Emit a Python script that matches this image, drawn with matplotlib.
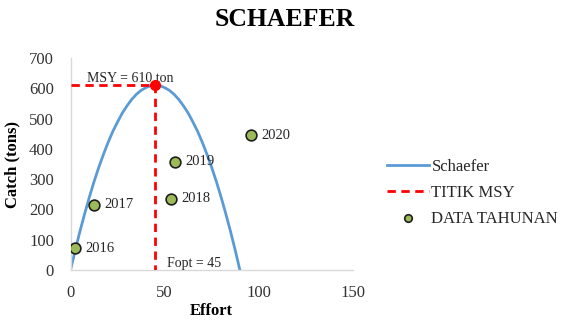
import matplotlib
matplotlib.use("Agg")
import matplotlib.pyplot as plt

# Schaefer curve, values
effort_curve = [0, 2.5, 5, 7.5, 10, 12.5, 15, 17.5, 20, 22.5, 25, 27.5, 30, 32.5, 35, 37.5,
                40, 42.5, 45, 47.5, 50, 52.5, 55, 57.5, 60, 62.5, 65, 67.5, 70, 72.5, 75,
                77.5, 80, 82.5, 85, 87.5, 90]
catch_curve = [0, 66, 128, 186, 241, 292, 339, 382, 422, 458, 489, 518, 542, 563, 580, 593,
               602, 608, 610, 608, 602, 593, 580, 563, 542, 518, 489, 458, 422, 382, 339,
               292, 241, 186, 128, 66, 0]

# MSY point
msy_effort = 45
msy_catch = 610

# yearly data
years = ["2016", "2017", "2018", "2019", "2020"]
effort_data = [2.6, 12.6, 53.5, 55.6, 96]
catch_data = [72, 216, 236, 357, 445]

plt.rcParams["font.family"] = ["Liberation Serif", "DejaVu Serif"]

fig = plt.figure(figsize=(5.69, 3.2), dpi=100)
ax = fig.add_axes([0.124, 0.156, 0.496, 0.663])

ax.plot(effort_curve, catch_curve, color="#5b9bd5", lw=2, label="Schaefer", zorder=2)
ax.plot([0, msy_effort, msy_effort], [msy_catch, msy_catch, 0], color="#ff0000",
        lw=2, ls=(0, (3, 2)), label="TITIK MSY", zorder=3)
ax.plot(msy_effort, msy_catch, "o", color="#ff0000", ms=7, zorder=4)
ax.scatter(effort_data, catch_data, s=60, color="#9bbb59", edgecolor="#1f1f1f",
           linewidth=1.2, label="DATA TAHUNAN", zorder=5)

for x, y, t in zip(effort_data, catch_data, years):
    ax.text(x + 5.5, y, t, fontsize=10.5, va="center", ha="left", color="#262626")

ax.text(9, 632, "MSY = 610 ton", fontsize=10, va="center", ha="left", color="#262626")
ax.text(51, 22, "Fopt = 45", fontsize=10, va="center", ha="left", color="#262626")

ax.set_xlim(0, 150)
ax.set_ylim(0, 700)
ax.set_xticks([0, 50, 100, 150])
ax.set_yticks(range(0, 701, 100))
ax.tick_params(length=0, labelsize=12, colors="#333333")
ax.tick_params(axis="x", pad=11)
ax.tick_params(axis="y", pad=12)
for s in ["top", "right"]:
    ax.spines[s].set_visible(False)
for s in ["left", "bottom"]:
    ax.spines[s].set_color("#d9d9d9")
    ax.spines[s].set_linewidth(1)

ax.set_xlabel("Effort", fontsize=12, fontweight="bold", labelpad=1)
ax.set_ylabel("Catch (tons)", fontsize=12, fontweight="bold", labelpad=6)

fig.suptitle("SCHAEFER", fontsize=18.5, fontweight="bold", x=0.5, y=0.975)

leg = fig.legend(loc="upper left", bbox_to_anchor=(0.669, 0.525), frameon=False,
                 fontsize=12, handlelength=2.5, handletextpad=0.15, labelspacing=0.6,
                 markerscale=0.7, borderaxespad=0)
for txt in leg.get_texts():
    txt.set_color("#262626")

fig.savefig("out.png", dpi=100)
